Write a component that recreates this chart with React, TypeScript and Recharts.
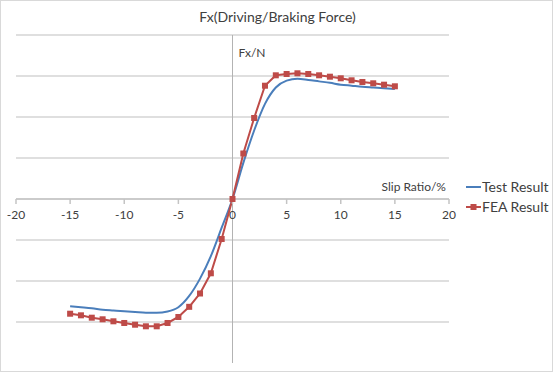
import React from 'react';
import { LineChart, Line, XAxis, YAxis, CartesianGrid, ReferenceLine, ReferenceDot, Legend } from 'recharts';

const slipRatio = [-15, -14, -13, -12, -11, -10, -9, -8, -7, -6, -5, -4, -3, -2, -1, 0, 1, 2, 3, 4, 5, 6, 7, 8, 9, 10, 11, 12, 13, 14, 15];
const testResult = [-2617, -2639, -2663, -2700, -2720, -2739, -2756, -2773, -2773, -2744, -2640, -2365, -1942, -1392, -700, 0, 880, 1670, 2320, 2720, 2888, 2934, 2905, 2869, 2834, 2789, 2764, 2739, 2719, 2699, 2682];
const feaResult = [-2798, -2837, -2895, -2934, -2983, -3024, -3066, -3105, -3105, -3024, -2878, -2630, -2305, -1812, -976, 0, 1110, 1976, 2763, 3017, 3049, 3066, 3049, 3017, 2983, 2944, 2895, 2854, 2822, 2788, 2749];
const xTicks = [-20, -15, -10, -5, 0, 5, 10, 15, 20];
const yTicks = [-4000, -3000, -2000, -1000, 0, 1000, 2000, 3000, 4000];

const data = slipRatio.map((s, i) => ({ slip: s, test: testResult[i], fea: feaResult[i] }));

const FONT = 'Lato, "Noto Sans", sans-serif';
const TEXT = '#404040';
const BLUE = '#4A7EBB';
const RED = '#BE4B48';

const SquareDot = (props: any) => {
  const { cx, cy } = props;
  if (cx == null || cy == null) return null;
  return <rect x={cx - 3} y={cy - 3} width={6} height={6} fill={RED} />;
};

const LegendContent = () => (
  <div style={{ fontFamily: FONT, fontSize: 14, color: TEXT, lineHeight: '20px' }}>
    <div style={{ display: 'flex', alignItems: 'center' }}>
      <svg width={16} height={20}><line x1={0} y1={10} x2={15} y2={10} stroke={BLUE} strokeWidth={2} /></svg>
      <span>Test Result</span>
    </div>
    <div style={{ display: 'flex', alignItems: 'center' }}>
      <svg width={16} height={20}>
        <line x1={0} y1={10} x2={15} y2={10} stroke={RED} strokeWidth={2} />
        <rect x={4.5} y={7} width={6} height={6} fill={RED} />
      </svg>
      <span>FEA Result</span>
    </div>
  </div>
);

export default function App() {
  return (
    <div style={{ position: 'relative', width: 553, height: 372, boxSizing: 'border-box', border: '1px solid #d9d9d9', background: '#fff' }}>
      <style>{`body{margin:0}`}</style>
      <div style={{ position: 'absolute', top: 7, left: 0, width: 553, textAlign: 'center', fontFamily: FONT, fontSize: 14, color: TEXT }}>
        Fx(Driving/Braking Force)
      </div>
      <LineChart width={551} height={370} data={data} margin={{ top: 34, right: 103, bottom: 8, left: 15 }} style={{ position: 'absolute', top: 0, left: 0 }}>
        <CartesianGrid vertical={false} horizontalValues={yTicks} stroke="#d4d4d4" strokeWidth={1.5} />
        <XAxis type="number" dataKey="slip" domain={[-20, 20]} ticks={xTicks} hide />
        <YAxis type="number" domain={[-4000, 4000]} ticks={yTicks} width={0} tick={() => <g />} axisLine={false} tickLine={false} />
        <ReferenceLine x={0} stroke="#b3b3b3" />
        <ReferenceLine y={0} stroke="#c4c4c4" strokeWidth={1.5} />
        {xTicks.map((t) => (
          <ReferenceDot
            key={t}
            x={t}
            y={0}
            shape={(p: any) => (
              <g>
                <line x1={p.cx} y1={p.cy} x2={p.cx} y2={p.cy + 5} stroke="#c4c4c4" strokeWidth={1.5} />
                <text x={p.cx} y={p.cy + 20} textAnchor="middle" fontFamily={FONT} fontSize={12} fill={TEXT}>{t}</text>
              </g>
            )}
          />
        ))}
        <ReferenceDot
          x={0}
          y={4000}
          shape={(p: any) => (
            <text x={p.cx + 6} y={p.cy + 22} fontFamily={FONT} fontSize={12} fill={TEXT}>Fx/N</text>
          )}
        />
        <ReferenceDot
          x={20}
          y={0}
          shape={(p: any) => (
            <text x={p.cx - 3} y={p.cy - 8} textAnchor="end" fontFamily={FONT} fontSize={12} fill={TEXT}>Slip Ratio/%</text>
          )}
        />
        <Legend layout="horizontal" verticalAlign="middle" align="center" content={<LegendContent />} wrapperStyle={{ left: 465, top: 176, width: 90, height: 44 }} />
        <Line type="monotone" dataKey="test" stroke={BLUE} strokeWidth={2} dot={false} isAnimationActive={false} />
        <Line type="linear" dataKey="fea" stroke={RED} strokeWidth={2} dot={<SquareDot />} isAnimationActive={false} />
      </LineChart>
    </div>
  );
}
